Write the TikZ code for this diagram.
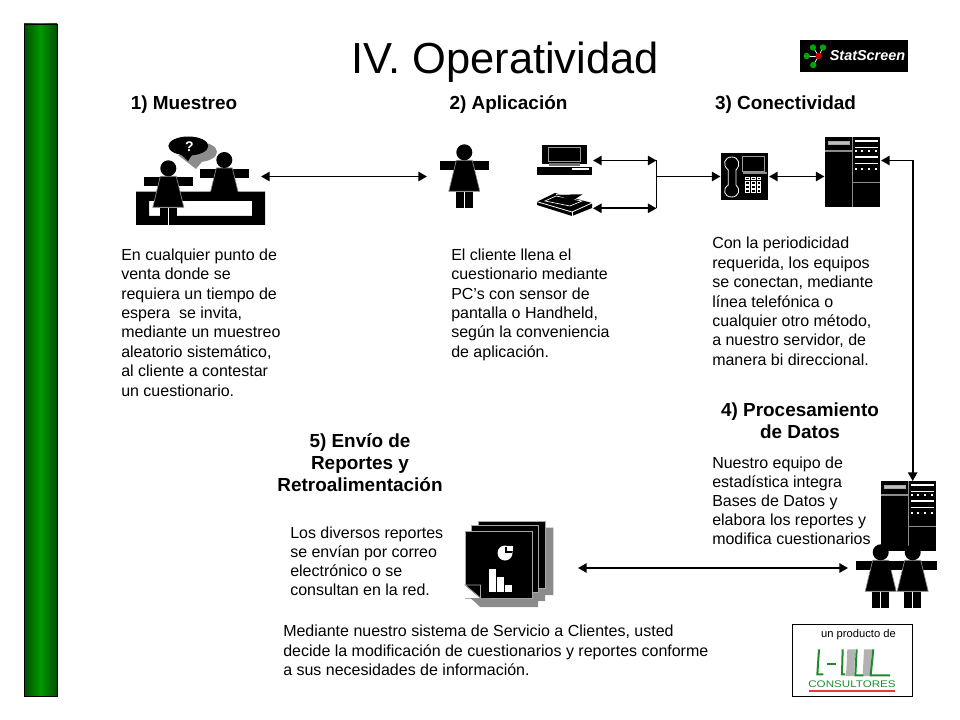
\documentclass[tikz,border=0pt]{standalone}
\usepackage{fontspec}
\setmainfont{Liberation Sans}
\usetikzlibrary{arrows.meta,fit}
\definecolor{lgreen}{HTML}{1E8A2E}
\definecolor{lred}{HTML}{E23B3B}
\tikzset{
 x=.75pt,y=-.75pt,
 tipa/.tip={Triangle[length=6.5pt,width=7pt]},
 arr/.style={line width=1.3pt,tipa-tipa},
 arrone/.style={line width=1.3pt,-tipa},
 plain/.style={line width=1.3pt},
 bodytext/.style={anchor=north west,align=left,inner sep=0pt,font=\fontsize{12}{14.55}\selectfont},
 heading/.style={align=center,inner sep=0pt,font=\fontsize{14.2}{16}\selectfont\bfseries},
 iconbox/.style={inner sep=0pt,outer sep=0pt},
 blackbox/.style={inner sep=0pt,outer sep=0pt,fill=black},
 woman/.pic={
  \fill[black] (-24.5,9) rectangle (24.5,18);
  \fill[black] (-8.5,40) rectangle (-.5,56);
  \fill[black] (.5,40) rectangle (8.5,56);
  \draw[black!45,line width=.5pt,fill=black] (-8,8) -- (8,8) -- (15.5,39) -- (-15.5,39) -- cycle;
  \fill[black] (0,0) circle (8);
 },
 serverpic/.pic={
  \fill[black] (0,0) rectangle (55,70);
  \draw[black!45,line width=.8pt] (27.7,0) -- (27.7,70);
  \draw[black!45,line width=.8pt] (0,14) -- (27.7,14);
  \draw[black!45,line width=.8pt] (27.7,45.7) -- (55,45.7);
  \draw[black!35,line width=.6pt,fill=black!25] (3.5,4.5) rectangle (24,7.5);
  \foreach \yy in {4,10.7,20,26.7}{\draw[white,line width=1pt] (29.5,\yy) -- (53,\yy);}
  \foreach \yy in {14,32}{\foreach \xx in {30.7,37.3,44,50.7}{\fill[white] (\xx-1,\yy-1) rectangle (\xx+1,\yy+1);}}
 },
 sheet/.pic={
  \draw[black!35,line width=.7pt,fill=black] (0,0) rectangle (67,67);
 },
}
\begin{document}
\begin{tikzpicture}
\useasboundingbox (0,0) rectangle (960,720);
% green bar
\shade[left color=black!70!green,right color=black!70!green,middle color=green!60!black] (24,24) rectangle (57,696);
\draw[black,line width=.6pt] (24,24) rectangle (57,696);
% title
\node[inner sep=0pt,font=\fontsize{32.6}{38}\selectfont] (title) at (505,62.5) {IV. Operatividad};
% StatScreen logo
\node[blackbox,fit={(800,40)(908,72)}] (statlogo) {};
\foreach \px/\py in {813/47.5,823/47.5,806.7/56,813.3/65}{
 \draw[white,line width=.5pt] (818.7,56) -- (\px,\py);
 \fill[green!65!black] (\px,\py) circle (3.2);
}
\fill[red!80!black] (818.7,56) circle (3.2);
\node[inner sep=0pt,text=white,font=\fontsize{10.8}{12}\selectfont\bfseries\itshape] (stattext) at (867.5,56) {StatScreen};
% headings
\node[heading] (h1) at (184,105) {1) Muestreo};
\node[heading] (h2) at (508.5,105) {2) Aplicación};
\node[heading] (h3) at (785.5,105) {3) Conectividad};
\node[heading] (h4) at (800,420.5) {4) Procesamiento\\[.5pt]de Datos};
\node[heading] (h5) at (360,462.5) {5) Envío de\\[.5pt]Reportes y\\[.5pt]Retroalimentación};
% body
\node[bodytext] (t1) at (121,248.5) {En cualquier punto de\\venta donde se\\requiera un tiempo de\\espera~ se invita,\\mediante un muestreo\\aleatorio sistemático,\\al cliente a contestar\\un cuestionario.};
\node[bodytext] (t2) at (451,248.5) {El cliente llena el\\cuestionario mediante\\PC’s con sensor de\\pantalla o Handheld,\\según la conveniencia\\de aplicación.};
\node[bodytext] (t3) at (712,237) {Con la periodicidad\\requerida, los equipos\\se conectan, mediante\\línea telefónica o\\cualquier otro método,\\a nuestro servidor, de\\manera bi direccional.};
\node[bodytext,font=\fontsize{12}{14.25}\selectfont] (t4) at (712,457) {Nuestro equipo de\\estadística integra\\Bases de Datos y\\elabora los reportes y\\modifica cuestionarios};
\node[bodytext,font=\fontsize{12}{14.25}\selectfont] (t5) at (290,527) {Los diversos reportes\\se envían por correo\\electrónico o se\\consultan en la red.};
\node[bodytext] (t6) at (283,625) {Mediante nuestro sistema de Servicio a Clientes, usted\\decide la modificación de cuestionarios y reportes conforme\\a sus necesidades de información.};
% muestreo icon
\node[iconbox,fit={(136,136)(265,225)}] (muestreo) {};
\fill[black!45] (198,152) ellipse (19 and 10);
\fill[black!45] (178,155) -- (196,169) -- (205,158) -- cycle;
\fill[black] (188.3,146) ellipse (20 and 9.5);
\fill[black] (176,150) -- (188,161) -- (194,152) -- cycle;
\node[inner sep=0pt,text=white,font=\fontsize{10.5}{11}\selectfont\bfseries] (qmark) at (189.5,147) {?};
\pic at (224.3,160) {woman};
\fill[white] (149,201) rectangle (252,216);
\fill[black,even odd rule] (136,191.7) rectangle (265,225) (149,201) rectangle (252,216);
\pic at (168.3,168.3) {woman};
\fill[black] (159.8,208) rectangle (176.8,225);
\draw[white,line width=.6pt] (168.3,208) -- (168.3,226);
% woman 2 icon
\node[iconbox,fit={(440,145)(489,208)}] (aplic) {};
\pic at (464.3,152.3) {woman};
% PC
\node[iconbox,fit={(537,145)(592,175)}] (pc) {};
\fill[black] (542.3,145) rectangle (586.7,164);
\draw[black!40,line width=.7pt] (548,147.7) rectangle (580.7,161);
\fill[black!55] (549,163) rectangle (580,166.5);
\fill[black] (537,167.3) rectangle (592,175);
\fill[white] (572,168.3) rectangle (589,169.8);
% scanner
\node[iconbox,fit={(537,193)(592,216)}] (scanner) {};
\fill[black] (537,201.7) -- (555,193) -- (592,203) -- (592,208) -- (572,216) -- (537,205) -- cycle;
\draw[white,line width=.6pt] (537,201.7) -- (572,212) -- (592,203);
\draw[white,line width=.6pt] (572,212) -- (572,216);
\draw[white,line width=.5pt] (545,201) -- (556,196) -- (582,201) -- (570,206) -- cycle;
\fill[black] (556,194.5) -- (583,194) -- (572,201) -- cycle;
\draw[white,line width=.4pt] (556,194.5) -- (583,194);
% phone
\node[blackbox,fit={(721,153)(768,200)}] (phone) {};
\begin{scope}[shift={(721,153)}]
 \draw[white,line width=.6pt] (7.3,17) .. controls (1,12) and (3,4) .. (10.7,4) .. controls (18,4) and (20,12) .. (15,17) -- (15,32) .. controls (20,36) and (18,44) .. (10.7,44) .. controls (3,44) and (1,36) .. (7.3,32) -- cycle;
 \draw[black!40,line width=.7pt] (21.7,3.7) rectangle (43,18);
 \fill[black!45] (21.7,19.5) rectangle (46,21.5);
 \foreach \yy in {25.3,29.5,33.7,38}{\foreach \xx in {26.3,32.3,38}{\draw[white,line width=.5pt] (\xx-1.7,\yy-1.4) rectangle (\xx+1.7,\yy+1.4);}}
\end{scope}
% servers
\node[iconbox,fit={(825,137)(880,207)}] (serverA) {};
\pic at (825,137) {serverpic};
\node[iconbox,fit={(881,481)(936,551)}] (serverB) {};
\pic at (881,481) {serverpic};
% two women
\node[iconbox,fit={(856,545)(937,609)}] (team) {};
\pic at (880.7,552.3) {woman};
\pic at (912.7,552.3) {woman};
% reports
\node[iconbox,fit={(465,521)(553,607)}] (reports) {};
\fill[black!45] (486,527.7) -- (553.3,527.7) -- (553.3,595) -- (545,595) -- (545,601) -- (538,601) -- (538,607) -- (480,607) -- (465,592) -- cycle;
\pic at (478,521) {sheet};
\pic at (471.3,525.7) {sheet};
\pic at (465,531) {sheet};
\fill[white] (464.5,585) -- (480,598.2) -- (464.5,598.2) -- cycle;
\fill[black!45] (470,598) -- (480,606) -- (490,598) -- cycle;
\draw[black!35,line width=.7pt] (465,585) -- (480.5,585) -- (480.5,598) -- cycle;
\fill[white] (505,553) circle (7.5);
\fill[black] (505,553) -- (505,546.5) -- (512,546.5) -- (512,553) -- cycle;
\fill[white] (507,545.5) -- (512.5,545.5) -- (512.5,551) -- (507,551) -- cycle;
\fill[white] (489,569) rectangle (496,591.7);
\fill[white] (496.7,577.3) rectangle (504.3,591.7);
\fill[white] (505,585) rectangle (512,591.7);
% Hill box
\node[draw=black,line width=.75pt,inner sep=0pt,fit={(792.7,624.3)(912,696)}] (hillbox) {};
\node[inner sep=0pt,font=\fontsize{8.4}{9}\selectfont] (prod) at (858.5,635) {un producto de};
\begin{scope}[shift={(780,615)},x=.25pt,y=-.25pt]
 \fill[black!30] (198,183) -- (222,183) -- (226,103) -- (202,103) -- cycle;
 \fill[black!30] (248,183) -- (272,183) -- (276,103) -- (252,103) -- cycle;
 \draw[lgreen,line width=1.5pt] (117,103) -- (112,178) -- (130,178);
 \draw[lgreen,line width=1.5pt] (140,148) -- (168,148);
 \draw[lgreen,line width=1.5pt] (188,103) -- (186,178) -- (196,178);
 \draw[lgreen,line width=1.5pt] (230,103) -- (226,181) -- (250,181);
 \draw[lgreen,line width=1.5pt] (280,103) -- (272,181) -- (330,181);
 \fill[lred] (87,225) rectangle (345,230);
\end{scope}
\node[inner sep=0pt,text=lgreen,font=\fontsize{7.2}{8}\selectfont,xscale=1.21] (consult) at (852,684.5) {CONSULTORES};
% connectors
\coordinate (a1) at (261,176.5);
\coordinate (a2) at (427,176.5);
\draw[arr] (a1) -- (a2);
\coordinate (pcR) at (593,160.5);
\coordinate (jTop) at (656.5,160.5);
\coordinate (scR) at (593,208.3);
\coordinate (jBot) at (656.5,208.3);
\coordinate (jMid) at (656.5,176.5);
\coordinate (ph1) at (720.5,176.5);
\coordinate (ph2) at (769,176.5);
\coordinate (sa) at (824.5,176.5);
\draw[arr] (pcR) -- (jTop);
\draw[arr] (scR) -- (jBot);
\draw[plain] (jTop) -- (jBot);
\draw[arrone] (jMid) -- (ph1);
\draw[arr] (ph2) -- (sa);
\coordinate (sb) at (881,160.5);
\coordinate (sc) at (912.7,160.5);
\coordinate (sd) at (912.7,481);
\draw[arr] (sb) -- (sc) -- (sd);
\coordinate (b1) at (578,568);
\coordinate (b2) at (848,568);
\draw[arr] (b1) -- (b2);
\end{tikzpicture}
\end{document}
